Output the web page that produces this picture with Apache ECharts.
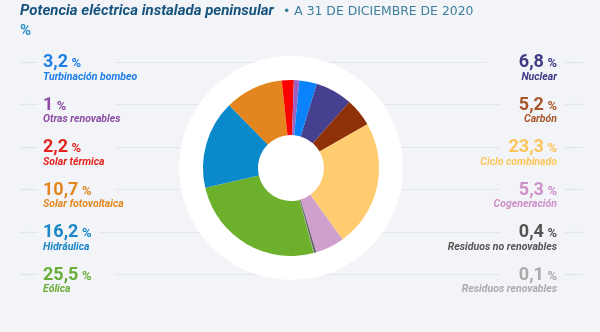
<!DOCTYPE html>
<html><head><meta charset="utf-8">
<script src="https://cdn.jsdelivr.net/npm/echarts@6/dist/echarts.min.js"></script>
<style>html,body{margin:0;padding:0;background:#f2f4f7}#c{width:600px;height:332px}</style>
</head><body><div id="c"></div>
<script>
// ---- data ----
const leftNames = ['Turbinación bombeo', 'Otras renovables', 'Solar térmica', 'Solar fotovoltaica', 'Hidráulica', 'Eólica'];
const leftValues = [3.2, 1, 2.2, 10.7, 16.2, 25.5];
const rightNames = ['Nuclear', 'Carbón', 'Ciclo combinado', 'Cogeneración', 'Residuos no renovables', 'Residuos renovables'];
const rightValues = [6.8, 5.2, 23.3, 5.3, 0.4, 0.1];
// clockwise order of the slices
const pieOrder = ['Nuclear', 'Carbón', 'Ciclo combinado', 'Cogeneración', 'Residuos no renovables', 'Residuos renovables',
  'Eólica', 'Hidráulica', 'Solar fotovoltaica', 'Solar térmica', 'Otras renovables', 'Turbinación bombeo'];
const titleText = 'Potencia eléctrica instalada peninsular';
const subtitleText = '• A 31 DE DICIEMBRE DE 2020';
const unitText = '%';

// ---- styles ----
const textColor = {
  'Turbinación bombeo': '#1f7fe8', 'Otras renovables': '#8c4ea4', 'Solar térmica': '#e5231f',
  'Solar fotovoltaica': '#e3861f', 'Hidráulica': '#1987c8', 'Eólica': '#68ad38',
  'Nuclear': '#3f3a86', 'Carbón': '#a8562a', 'Ciclo combinado': '#fcc55a', 'Cogeneración': '#cf8fc9',
  'Residuos no renovables': '#555555', 'Residuos renovables': '#ababab'
};
const sliceColor = {
  'Turbinación bombeo': '#0a82fa', 'Otras renovables': '#a060c0', 'Solar térmica': '#ff0000',
  'Solar fotovoltaica': '#e3861f', 'Hidráulica': '#0a8acb', 'Eólica': '#6cb02c',
  'Nuclear': '#464090', 'Carbón': '#8e3008', 'Ciclo combinado': '#ffcc70', 'Cogeneración': '#cfa0cc',
  'Residuos no renovables': '#666666', 'Residuos renovables': '#999999'
};

const allNames = leftNames.concat(rightNames);
const allValues = leftValues.concat(rightValues);
const valueOf = {};
allNames.forEach((n, i) => valueOf[n] = allValues[i]);
const fmt = v => String(v).replace('.', ',');

const cx = 291, cy = 168;
const rowY0 = 61.5, rowStep = 42.5;
const lineColor = '#e2e5ea';
const elements = [];

// background lines
for (let i = 0; i < 6; i++) {
  const y = Math.round(rowY0 + i * rowStep) + 0.5;
  elements.push({ type: 'line', z: 0, shape: { x1: 20, y1: y, x2: 38, y2: y }, style: { stroke: lineColor, lineWidth: 1.2 } });
  elements.push({ type: 'line', z: 0, shape: { x1: i === 4 ? 100 : 115, y1: y, x2: i === 0 ? 486 : 500, y2: y }, style: { stroke: lineColor, lineWidth: 1.2 } });
  elements.push({ type: 'line', z: 0, shape: { x1: 565, y1: y, x2: 583, y2: y }, style: { stroke: lineColor, lineWidth: 1.2 } });
}
// white disc
elements.push({ type: 'circle', z: 1, shape: { cx: cx, cy: cy, r: 112 }, style: { fill: '#ffffff' } });

function addLabel(name, x, y, align) {
  const c = textColor[name];
  elements.push({
    type: 'text', z: 5, x: x, y: y,
    style: {
      text: '{v|' + fmt(valueOf[name]) + '}{s| }{p|%}',
      textAlign: align, textVerticalAlign: 'middle',
      rich: {
        v: { font: 'bold 18px Roboto', fill: c, verticalAlign: 'bottom', lineHeight: 20 },
        s: { font: 'bold 14px Roboto', fill: c, verticalAlign: 'bottom', lineHeight: 20 },
        p: { font: 'bold 13px Roboto', fill: c, verticalAlign: 'bottom', lineHeight: 20, padding: [0, 0, 1, 0] }
      }
    }
  });
  elements.push({
    type: 'text', z: 5, x: x, y: y + 15.5,
    style: { text: name, font: 'italic bold 10.5px Roboto', fill: c, textAlign: align, textVerticalAlign: 'middle' }
  });
}
leftNames.forEach((n, i) => addLabel(n, 43, rowY0 + i * rowStep, 'left'));
rightNames.forEach((n, i) => addLabel(n, 557, rowY0 + i * rowStep, 'right'));

// titles
elements.push({ type: 'text', z: 5, x: 20, y: 11, style: { text: titleText, font: 'italic bold 15px Roboto', fill: '#17547e', textVerticalAlign: 'middle' } });
elements.push({ type: 'text', z: 5, x: 283, y: 11.5, style: { text: subtitleText, font: '12.4px "DejaVu Sans"', fill: '#3d7e9c', textVerticalAlign: 'middle' } });
elements.push({ type: 'text', z: 5, x: 20, y: 31.5, style: { text: unitText, font: 'bold 15px Roboto', fill: '#2a8fc9', textVerticalAlign: 'middle' } });

const chart = echarts.init(document.getElementById('c'), null, { renderer: 'canvas' });
chart.setOption({
  backgroundColor: '#f2f4f7',
  animation: false,
  graphic: { elements: elements },
  series: [{
    type: 'pie', z: 3,
    center: [cx, cy], radius: [33, 88],
    startAngle: 73, clockwise: true,
    label: { show: false }, labelLine: { show: false },
    itemStyle: { borderWidth: 0 },
    emphasis: { disabled: true },
    data: pieOrder.map(n => ({ name: n, value: valueOf[n], itemStyle: { color: sliceColor[n] } }))
  }]
});
</script></body></html>
